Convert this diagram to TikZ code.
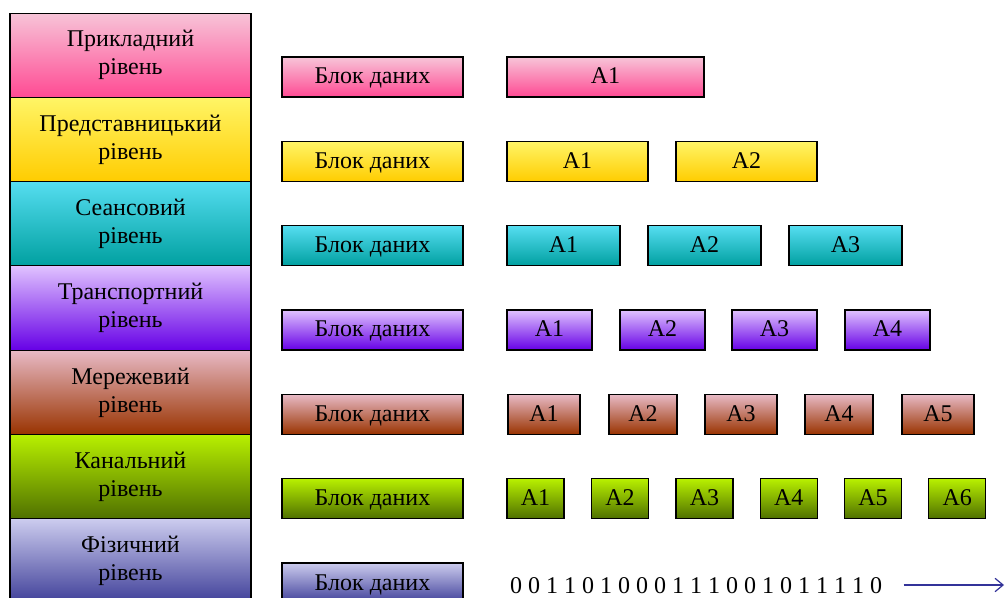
\documentclass[tikz,border=0pt]{standalone}
\usepackage{fontspec}
\setmainfont{Liberation Serif}
\usepackage{tikz}
\usetikzlibrary{arrows.meta}

\definecolor{apptop}{HTML}{F7C4D8}
\definecolor{appbot}{HTML}{FF4A93}
\definecolor{pretop}{HTML}{FFF566}
\definecolor{prebot}{HTML}{FFCC00}
\definecolor{sestop}{HTML}{55DDF0}
\definecolor{sesbot}{HTML}{00A0A0}
\definecolor{trntop}{HTML}{E0C2FF}
\definecolor{trnbot}{HTML}{6600E6}
\definecolor{nettop}{HTML}{E8BAC6}
\definecolor{netbot}{HTML}{993300}
\definecolor{lnktop}{HTML}{B8F000}
\definecolor{lnkbot}{HTML}{4F7000}
\definecolor{phytop}{HTML}{CCCCEE}
\definecolor{phybot}{HTML}{3F3F99}
\definecolor{arrowblue}{HTML}{333399}

\tikzstyle{layer} = [draw=black, line width=0.8pt, minimum width=180.75pt, minimum height=63.2pt, text width=175pt, align=center, inner sep=0pt]
\tikzstyle{block} = [draw=black, line width=0.8pt, minimum width=135.75pt, minimum height=30pt, inner sep=0pt, text height=13pt, text depth=2.5pt]
\tikzstyle{piece} = [draw=black, line width=0.8pt, minimum height=30pt, inner sep=0pt, text height=13pt, text depth=2.5pt]
\tikzstyle{app} = [top color=apptop, bottom color=appbot]
\tikzstyle{pre} = [top color=pretop, bottom color=prebot]
\tikzstyle{ses} = [top color=sestop, bottom color=sesbot]
\tikzstyle{trn} = [top color=trntop, bottom color=trnbot]
\tikzstyle{net} = [top color=nettop, bottom color=netbot]
\tikzstyle{lnk} = [top color=lnktop, bottom color=lnkbot]
\tikzstyle{phy} = [top color=phytop, bottom color=phybot]

\begin{document}
\begin{tikzpicture}[x=0.75pt, y=-0.75pt, every node/.style={font=\fontsize{18}{21}\selectfont}]
	  \clip (0,0) rectangle (1006,598);

	  % levels
	  \node (l1) at (130.5,55.2) [layer, app] {Прикладний\\рівень};
	  \node (l2) at (130.5,139.5) [layer, pre] {Представницький\\рівень};
	  \node (l3) at (130.5,223.8) [layer, ses] {Сеансовий\\рівень};
	  \node (l4) at (130.5,308.1) [layer, trn] {Транспортний\\рівень};
	  \node (l5) at (130.5,392.4) [layer, net] {Мережевий\\рівень};
	  \node (l6) at (130.5,476.7) [layer, lnk] {Канальний\\рівень};
	  \node (l7) at (130.5,561) [layer, phy] {Фізичний\\рівень};

	  % data blocks
	  \node (b1) at (372.5,77) [block, app] {Блок даних};
	  \node (b2) at (372.5,161.5) [block, pre] {Блок даних};
	  \node (b3) at (372.5,245.8) [block, ses] {Блок даних};
	  \node (b4) at (372.5,330) [block, trn] {Блок даних};
	  \node (b5) at (372.5,414.4) [block, net] {Блок даних};
	  \node (b6) at (372.5,498.7) [block, lnk] {Блок даних};
	  \node (b7) at (372.5,583) [block, phy] {Блок даних};

	  % pieces
	  \node (a11) at (605.5,77) [piece, app, minimum width=147.75pt] {A1};

	  \node (a21) at (577.5,161.5) [piece, pre, minimum width=105.75pt] {A1};
	  \node (a22) at (746.5,161.5) [piece, pre, minimum width=105.75pt] {A2};

	  \node (a31) at (563.5,245.8) [piece, ses, minimum width=84.75pt] {A1};
	  \node (a32) at (704.5,245.8) [piece, ses, minimum width=84.75pt] {A2};
	  \node (a33) at (845.5,245.8) [piece, ses, minimum width=84.75pt] {A3};

	  \node (a41) at (549.5,330) [piece, trn, minimum width=63.75pt] {A1};
	  \node (a42) at (662.5,330) [piece, trn, minimum width=63.75pt] {A2};
	  \node (a43) at (774.5,330) [piece, trn, minimum width=63.75pt] {A3};
	  \node (a44) at (887.5,330) [piece, trn, minimum width=63.75pt] {A4};

	  \node (a51) at (544,414.4) [piece, net, minimum width=54pt] {A1};
	  \node (a52) at (643,414.4) [piece, net, minimum width=51pt] {A2};
	  \node (a53) at (741,414.4) [piece, net, minimum width=54pt] {A3};
	  \node (a54) at (839,414.4) [piece, net, minimum width=51pt] {A4};
	  \node (a55) at (938,414.4) [piece, net, minimum width=54pt] {A5};

	  \node (a61) at (535.5,498.7) [piece, lnk, minimum width=42.75pt] {A1};
	  \node (a62) at (620,498.7) [piece, lnk, minimum width=42.75pt] {A2};
	  \node (a63) at (704.5,498.7) [piece, lnk, minimum width=42.75pt] {A3};
	  \node (a64) at (788.7,498.7) [piece, lnk, minimum width=42.75pt] {A4};
	  \node (a65) at (873,498.7) [piece, lnk, minimum width=42.75pt] {A5};
	  \node (a66) at (957.3,498.7) [piece, lnk, minimum width=42.75pt] {A6};

	  % bit stream
	  \node (bits) at (696,586) [inner sep=0pt] {0 0 1 1 0 1 0 0 0 1 1 1 0 0 1 0 1 1 1 1 0};
	  \coordinate (send) at (1004,585);
	  \draw [-{Straight Barb[length=6pt, width=10pt]}, arrowblue, line width=0.9pt, shorten <=16pt] (bits.east |- send) -- (send);
	\end{tikzpicture}
\end{document}
